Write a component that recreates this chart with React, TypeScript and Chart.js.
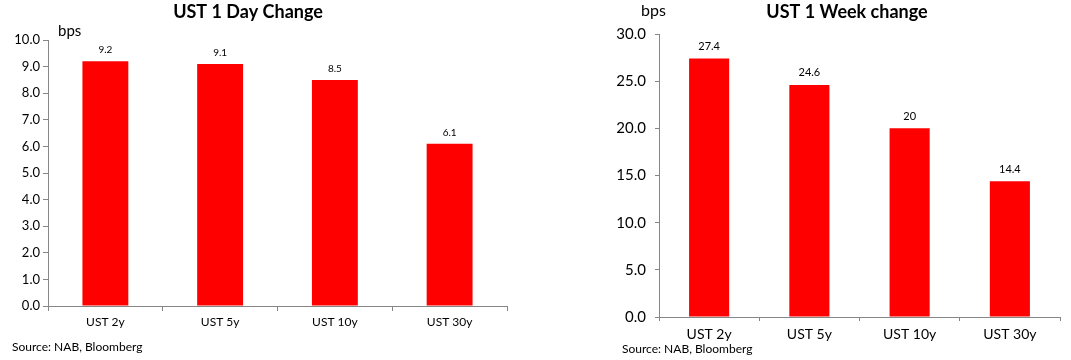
import React, { useEffect, useRef } from "react";
import { Chart, registerables } from "chart.js";

Chart.register(...registerables);

const categories = ["UST 2y", "UST 5y", "UST 10y", "UST 30y"];
const dayValues = [9.2, 9.1, 8.5, 6.1];
const weekValues = [27.4, 24.6, 20, 14.4];
const dayTitle = "UST 1 Day Change";
const weekTitle = "UST 1 Week change";
const unitLabel = "bps";
const sourceText = "Source: NAB, Bloomberg";

const FONT = "Lato, 'Open Sans', sans-serif";
const RED = "#FF0000";
const AXIS = "#868686";

type Spec = {
  values: number[];
  max: number;
  step: number;
  width: number;
  padding: { top: number; left: number; right: number; bottom: number };
  yWidth: number;
  yFont: number;
  yPad: number;
  tickLen: number;
  xFont: number;
  xPad: number;
  labelFont: number;
  labelGap: number;
  title: string;
  titleX: number;
  titleY: number;
  bpsX: number;
  bpsY: number;
  bpsFont: number;
};

function makeConfig(s: Spec): any {
  const decor = {
    id: "decor",
    afterDatasetsDraw(chart: any) {
      const ctx = chart.ctx;
      ctx.save();
      ctx.fillStyle = "#000";
      ctx.font = `${s.labelFont}px ${FONT}`;
      ctx.textAlign = "center";
      ctx.textBaseline = "middle";
      const meta = chart.getDatasetMeta(0);
      meta.data.forEach((bar: any, i: number) => {
        ctx.fillText(String(s.values[i]), bar.x, bar.y - s.labelGap);
      });
      ctx.font = `bold 18px ${FONT}`;
      ctx.fillText(s.title, s.titleX, s.titleY);
      ctx.font = `${s.bpsFont}px ${FONT}`;
      ctx.textAlign = "left";
      ctx.fillText(unitLabel, s.bpsX, s.bpsY);
      ctx.restore();
    },
  };
  return {
    type: "bar",
    data: {
      labels: categories,
      datasets: [
        {
          data: s.values,
          backgroundColor: RED,
          borderWidth: 0,
          categoryPercentage: 1,
          barPercentage: 0.4,
        },
      ],
    },
    options: {
      animation: false,
      responsive: false,
      maintainAspectRatio: false,
      layout: { padding: s.padding },
      plugins: {
        legend: { display: false },
        title: { display: false },
        tooltip: { enabled: false },
      },
      scales: {
        x: {
          grid: {
            drawOnChartArea: false,
            drawTicks: true,
            tickLength: s.tickLen,
            color: AXIS,
          },
          border: { color: AXIS },
          ticks: {
            color: "#000",
            font: { family: FONT, size: s.xFont },
            padding: s.xPad,
            maxRotation: 0,
          },
          afterFit: (sc: any) => {
            sc.height = 30;
          },
        },
        y: {
          min: 0,
          max: s.max,
          grid: {
            drawOnChartArea: false,
            drawTicks: true,
            tickLength: s.tickLen,
            color: AXIS,
          },
          border: { color: AXIS },
          ticks: {
            stepSize: s.step,
            color: "#000",
            font: { family: FONT, size: s.yFont },
            padding: s.yPad,
            callback: (v: any) => Number(v).toFixed(1),
          },
          afterFit: (sc: any) => {
            sc.width = s.yWidth;
          },
        },
      },
    },
    plugins: [decor],
  };
}

const leftSpec: Spec = {
  values: dayValues,
  max: 10,
  step: 1,
  width: 530,
  padding: { top: 40, left: 0, right: 23, bottom: 24 },
  yWidth: 48,
  yFont: 13,
  yPad: 3,
  tickLen: 5,
  xFont: 12,
  xPad: 4,
  labelFont: 10,
  labelGap: 11,
  title: dayTitle,
  titleX: 248,
  titleY: 12,
  bpsX: 58,
  bpsY: 31,
  bpsFont: 15,
};

const rightSpec: Spec = {
  values: weekValues,
  max: 30,
  step: 5,
  width: 531,
  padding: { top: 34, left: 0, right: 11, bottom: 13 },
  yWidth: 119,
  yFont: 15,
  yPad: 9,
  tickLen: 4,
  xFont: 14,
  xPad: 5,
  labelFont: 11,
  labelGap: 12,
  title: weekTitle,
  titleX: 307,
  titleY: 12,
  bpsX: 101,
  bpsY: 11,
  bpsFont: 16,
};

function BarChart({ spec, left }: { spec: Spec; left: number }) {
  const ref = useRef<HTMLCanvasElement | null>(null);
  useEffect(() => {
    if (!ref.current) return;
    const chart = new Chart(ref.current, makeConfig(spec));
    return () => chart.destroy();
  }, []);
  return (
    <canvas
      ref={ref}
      width={spec.width}
      height={360}
      style={{ position: "absolute", left, top: 0, width: spec.width, height: 360 }}
    />
  );
}

export default function App() {
  const srcStyle: React.CSSProperties = {
    position: "absolute",
    fontFamily: FONT,
    fontSize: 12,
    lineHeight: "14px",
    color: "#000",
    whiteSpace: "nowrap",
  };
  return (
    <div
      style={{
        position: "fixed",
        left: 0,
        top: 0,
        width: 1071,
        height: 360,
        background: "#fff",
        overflow: "hidden",
      }}
    >
      <BarChart spec={leftSpec} left={0} />
      <BarChart spec={rightSpec} left={540} />
      <div style={{ ...srcStyle, left: 12, top: 340 }}>{sourceText}</div>
      <div style={{ ...srcStyle, left: 622, top: 342 }}>{sourceText}</div>
    </div>
  );
}
